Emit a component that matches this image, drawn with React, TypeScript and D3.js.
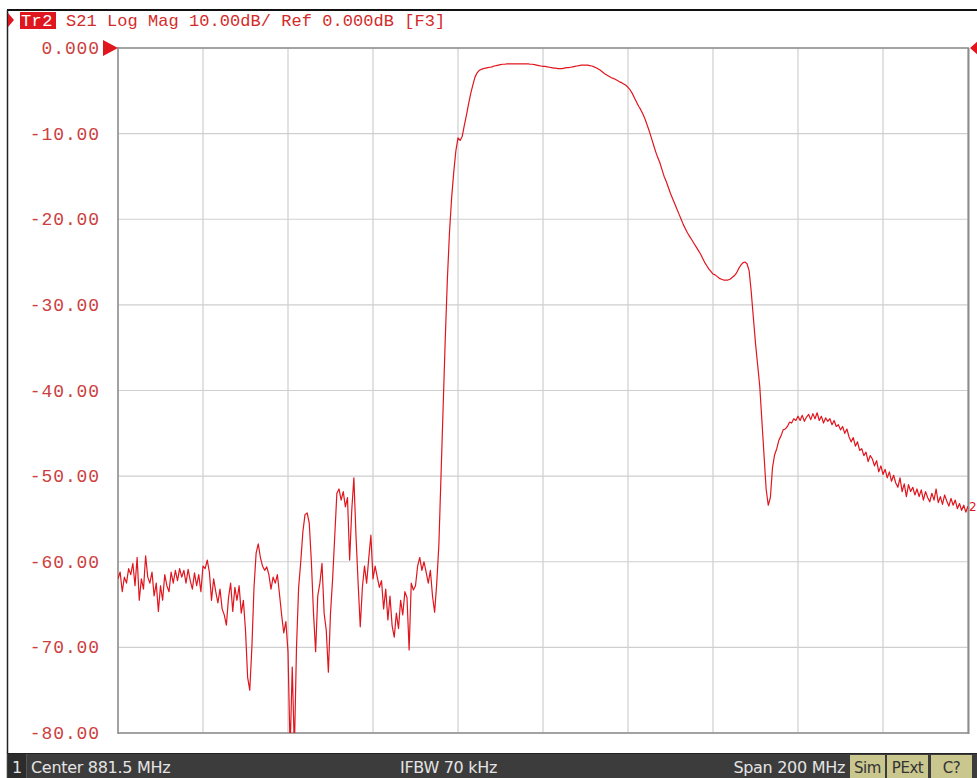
import React from "react";
import * as d3 from "d3";

// Sweep: 401 points, Center 881.5 MHz, Span 200 MHz
const startMHz = 781.5;
const stopMHz = 981.5;
const pointCount = 401;

// S21 (dB), one array per horizontal division
const div1 = [-62, -61.2, -63.5, -61.8, -62.5, -60.8, -61.5, -60.2, -62.8, -59.5, -64.5, -62, -63.2, -59.3, -61.8, -62.5, -61.2, -64, -62.5, -65.8, -62.8, -64.5, -61.5, -62.8, -63.5, -61.2, -62.5, -61, -62.2, -60.8, -61.8, -61, -62.5, -60.9, -62.2, -63.2, -61.3, -62.8, -61.5, -63.5, -60.5];
const div2 = [-60.8, -59.8, -61.2, -64.5, -62, -63.5, -64.8, -63.2, -65.5, -66.2, -67.4, -64.2, -62.5, -65.8, -63, -64.5, -62.8, -66, -64.5, -68, -73.5, -75, -70, -63, -59, -57.9, -59.5, -60.5, -61, -60.6, -61.5, -63.2, -61.8, -62.5, -61.5, -63.8, -66.2, -68.3, -67, -70.5];
const div3 = [-82, -72.3, -82, -70, -63, -60, -56.5, -54.5, -54.3, -55.5, -60, -66, -70.5, -64, -62.5, -60.2, -66, -68, -72.9, -66, -62, -57, -52, -51.5, -52.8, -51.8, -53.6, -52.5, -59.8, -54, -50.2, -57, -62.5, -67.6, -63, -60.5, -62.5, -59.6, -56.9, -62];
const div4 = [-60.5, -61.8, -63, -62.2, -65.5, -63.2, -66.8, -64, -67.5, -68.8, -66, -67.8, -64.5, -66.2, -63.5, -64.2, -70.3, -62.5, -63.3, -62.8, -60.5, -59.5, -61, -60, -61.2, -62.5, -61, -64, -65.9, -62.5, -58, -50, -42, -34, -27, -21.5, -17.5, -14.5, -12, -10.5];
const div5 = [-10.8, -10.3, -9, -7.8, -6.5, -5.3, -4.3, -3.4, -2.9, -2.6, -2.5, -2.4, -2.35, -2.3, -2.25, -2.2, -2.1, -2.05, -2.0, -1.95, -1.9, -1.9, -1.85, -1.85, -1.85, -1.85, -1.85, -1.85, -1.85, -1.85, -1.85, -1.85, -1.85, -1.9, -1.9, -1.95, -2.0, -2.05, -2.1, -2.15];
const div6 = [-2.15, -2.2, -2.25, -2.3, -2.35, -2.35, -2.4, -2.4, -2.4, -2.35, -2.3, -2.3, -2.25, -2.2, -2.15, -2.1, -2.05, -2.0, -2.0, -2.0, -2.0, -2.05, -2.1, -2.2, -2.3, -2.45, -2.6, -2.8, -3.0, -3.15, -3.3, -3.45, -3.55, -3.65, -3.8, -3.95, -4.05, -4.2, -4.35, -4.6];
const div7 = [-4.9, -5.3, -5.8, -6.3, -6.8, -7.2, -7.7, -8.3, -9.0, -9.7, -10.5, -11.3, -12.1, -12.8, -13.4, -14.2, -15.0, -15.6, -16.3, -17.0, -17.6, -18.2, -18.8, -19.4, -20.0, -20.6, -21.1, -21.6, -22.0, -22.4, -22.8, -23.2, -23.6, -24.0, -24.5, -25.0, -25.4, -25.8, -26.1, -26.4];
const div8 = [-26.5, -26.7, -26.9, -27.0, -27.1, -27.1, -27.1, -27.0, -26.8, -26.6, -26.3, -25.8, -25.4, -25.1, -25.0, -25.2, -26.0, -28.5, -31.5, -34.5, -37.0, -39.5, -43.5, -47.5, -51.5, -53.4, -52.5, -49, -47.5, -46.8, -45.8, -45.3, -44.6, -44.5, -44.2, -43.7, -43.8, -43.3, -43.5, -43.0];
const div9 = [-43.5, -42.9, -43.6, -43.1, -42.8, -43.4, -42.7, -43.3, -42.6, -43.5, -43.0, -43.8, -43.2, -43.6, -43.3, -44.0, -43.5, -44.2, -44.0, -44.6, -44.2, -45.0, -44.5, -45.4, -46.0, -45.5, -46.5, -46.0, -47.0, -46.8, -47.6, -47.2, -48.3, -47.6, -48.0, -48.8, -48.2, -49.5, -48.8, -49.8];
const div10 = [-49.2, -50.2, -49.5, -50.6, -49.9, -50.8, -51.3, -50.2, -51.8, -50.9, -52.4, -51.0, -51.8, -51.3, -52.2, -51.5, -52.4, -51.6, -52.8, -51.8, -52.5, -53.0, -52.0, -52.8, -51.5, -53.1, -52.4, -53.3, -52.2, -52.9, -53.5, -52.6, -53.4, -52.8, -53.8, -53.2, -54.0, -53.4, -54.2, -53.5];

const s21 = [...div1, ...div2, ...div3, ...div4, ...div5, ...div6, ...div7, ...div8, ...div9, ...div10];

const yTicks = [0, -10, -20, -30, -40, -50, -60, -70, -80];
const yTickLabels = ["0.000", "-10.00", "-20.00", "-30.00", "-40.00", "-50.00", "-60.00", "-70.00", "-80.00"];
const xDivisions = 10;

const headerTr = "Tr2";
const headerText = "S21 Log Mag 10.00dB/ Ref 0.000dB [F3]";
const traceLabel = "2";
const statusChannel = "1";
const statusCenter = "Center 881.5 MHz";
const statusIfbw = "IFBW 70 kHz";
const statusSpan = "Span 200 MHz";
const statusFlags = ["Sim", "PExt", "C?"];

const W = 977;
const H = 778;
const L = 118, R = 968, T = 48, B = 733;
const RED = "#e0161e";
const MONO = "'Liberation Mono', 'DejaVu Sans Mono', monospace";
const SANS = "'DejaVu Sans', Verdana, sans-serif";

export default function App() {
  const x = d3.scaleLinear().domain([startMHz, stopMHz]).range([L, R]);
  const y = d3.scaleLinear().domain([0, -80]).range([T, B]);
  const step = (stopMHz - startMHz) / (pointCount - 1);
  const pts: [number, number][] = s21.map((v, i) => [startMHz + i * step, v]);
  const line = d3.line<[number, number]>().x(d => x(d[0])).y(d => y(d[1]));
  const xGrid = d3.range(xDivisions + 1).map(i => startMHz + i * (stopMHz - startMHz) / xDivisions);

  const flagX = [850, 887, 931];
  const flagW = [35, 41, 41];

  return (
    <svg width={W} height={H} style={{ position: "absolute", left: 0, top: 0, background: "#fff" }}>
      <defs>
        <clipPath id="plotclip">
          <rect x={L} y={T} width={R - L} height={B - T} />
        </clipPath>
      </defs>
      <rect x={0} y={0} width={W} height={H} fill="#fff" />
      {/* outer frame */}
      <line x1={7} y1={10} x2={W} y2={10} stroke="#111" strokeWidth={2} />
      <line x1={7.5} y1={10} x2={7.5} y2={H} stroke="#222" strokeWidth={1.5} />

      {/* header */}
      <path d="M8,13 L14,20 L8,27 Z" fill={RED} />
      <rect x={20} y={12} width={36} height={17} fill={RED} />
      <text x={21} y={26} fontFamily={MONO} fontSize={17} fill="#fff" letterSpacing={0.4}>{headerTr}</text>
      <text x={66} y={26} fontFamily={MONO} fontSize={17} fill="#d42a2a" letterSpacing={0.05}>{headerText}</text>

      {/* grid */}
      {xGrid.map((f, i) => (
        <line key={"gx" + i} x1={x(f)} x2={x(f)} y1={T} y2={B} stroke="#cfcfcf" strokeWidth={1.2} />
      ))}
      {yTicks.map((t, i) => (
        <line key={"gy" + i} x1={L} x2={R} y1={y(t)} y2={y(t)} stroke="#cfcfcf" strokeWidth={1.2} />
      ))}
      {/* plot border */}
      <line x1={L} x2={L} y1={T - 1} y2={B + 1} stroke="#8c8c8c" strokeWidth={1.5} />
      <line x1={L} x2={R + 1} y1={B} y2={B} stroke="#8c8c8c" strokeWidth={1.5} />
      <line x1={L} x2={R + 1} y1={T} y2={T} stroke="#8c8c8c" strokeWidth={1.5} />
      <line x1={R + 0.5} x2={R + 0.5} y1={T} y2={B + 1} stroke="#8c8c8c" strokeWidth={2} />

      {/* y labels */}
      {yTicks.map((t, i) => (
        <text key={"yl" + i} x={100} y={y(t) + 6} textAnchor="end" fontFamily={MONO} fontSize={18} letterSpacing={0.9} fill="#cc4040">
          {yTickLabels[i]}
        </text>
      ))}

      {/* reference markers */}
      <path d={`M103,${y(0) - 8} L118,${y(0)} L103,${y(0) + 8} Z`} fill={RED} />
      <path d={`M${W + 2},${y(0) - 8} L${R + 2},${y(0)} L${W + 2},${y(0) + 8} Z`} fill={RED} />

      {/* trace */}
      <g clipPath="url(#plotclip)">
        <path d={line(pts) || ""} fill="none" stroke={RED} strokeWidth={1.2} strokeLinejoin="round" />
      </g>
      <text x={969} y={y(s21[s21.length - 1]) + 5} fontFamily={SANS} fontSize={12} fill={RED}>{traceLabel}</text>

      {/* status bar */}
      <rect x={7} y={753} width={W - 7} height={H - 753} fill="#3c3c3c" />
      <line x1={7} x2={W} y1={753.5} y2={753.5} stroke="#222" strokeWidth={1} />
      <rect x={8} y={754} width={18} height={H - 754} fill="#2c2c2c" />
      <line x1={26.5} x2={26.5} y1={754} y2={H} stroke="#555" />
      <text x={12} y={773} fontFamily={SANS} fontSize={16} fill="#e4e4e4">{statusChannel}</text>
      <text x={31} y={773} fontFamily={SANS} fontSize={16} fill="#e4e4e4" letterSpacing={-0.3}>{statusCenter}</text>
      <text x={400} y={773} fontFamily={SANS} fontSize={16} fill="#e4e4e4" letterSpacing={-0.3}>{statusIfbw}</text>
      <text x={845} y={773} textAnchor="end" fontFamily={SANS} fontSize={16} fill="#e4e4e4" letterSpacing={-0.3}>{statusSpan}</text>
      {statusFlags.map((f, i) => (
        <g key={"fl" + i}>
          <rect x={flagX[i]} y={755} width={flagW[i]} height={H - 755} fill="#c9c68e" />
          <text x={flagX[i] + flagW[i] / 2} y={773} textAnchor="middle" fontFamily={SANS} fontSize={15} fill="#333" letterSpacing={-0.5}>{f}</text>
        </g>
      ))}
    </svg>
  );
}
